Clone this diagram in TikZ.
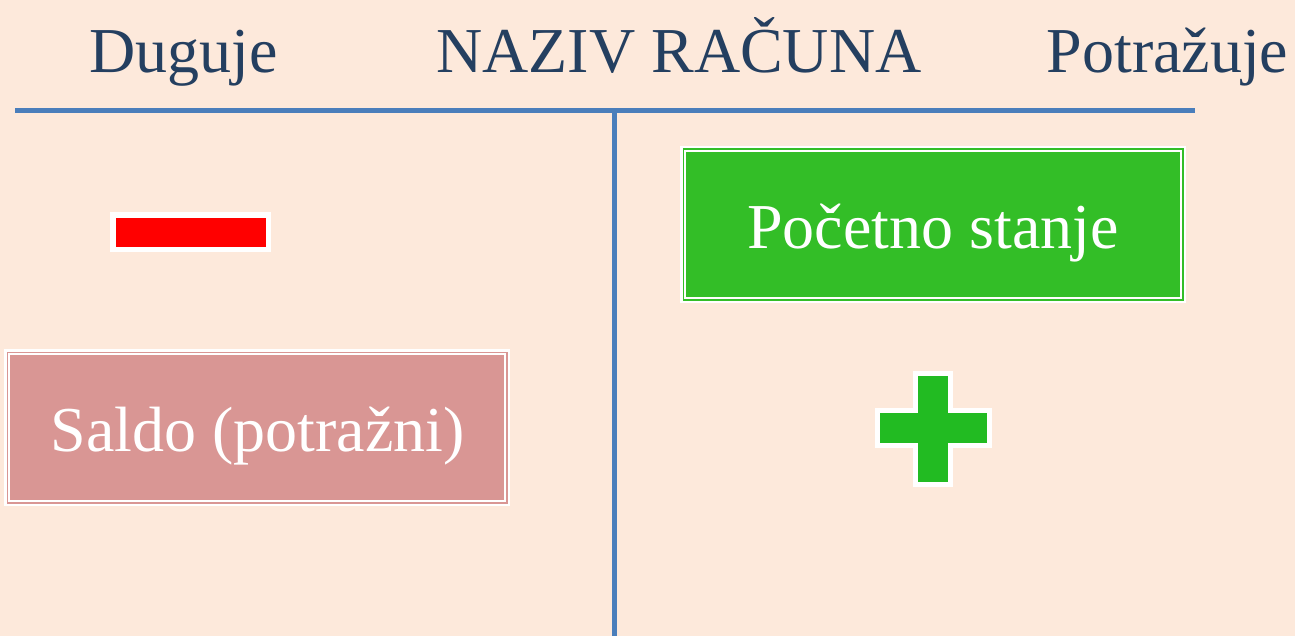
\documentclass[tikz,border=0pt]{standalone}
\usepackage{fontspec}
\setmainfont{Liberation Serif}
\definecolor{bgc}{HTML}{FDE9DB}
\definecolor{titc}{HTML}{243F60}
\definecolor{linec}{HTML}{4A7EBB}
\definecolor{boxgreen}{HTML}{33BE27}
\definecolor{plusgreen}{HTML}{22BB22}
\definecolor{boxpink}{HTML}{D99694}
\begin{document}
\begin{tikzpicture}[x=1pt,y=-1pt,
  title/.style={font=\fontsize{64}{70}\selectfont, text=titc, anchor=base, inner sep=0pt},
  boxtext/.style={font=\fontsize{64}{70}\selectfont, text=white, anchor=base, inner sep=0pt},
  tline/.style={draw=linec, line width=5pt},
  framebox/.style={draw=white, line width=2.5pt},
  innerframe/.style={draw=white, line width=2pt}]
\useasboundingbox (0,0) rectangle (1295,636);
\fill[bgc] (0,0) rectangle (1295,636);
% titles
\node[title] (deb) at (183.5,73) {Duguje};
\node[title] (name) at (679,73) {NAZIV RAČUNA};
\node[title] (cred) at (1167.5,73) {Potražuje};
% T lines
\coordinate (hl) at (15,110.5);
\coordinate (hr) at (1195,110.5);
\coordinate (vt) at (614.5,110.5);
\coordinate (vb) at (614.5,636);
\draw[tline] (hl) -- (hr);
\draw[tline] (vt) -- (vb);
% green box
\fill[boxgreen] (681.25,147.25) rectangle (1184.75,301.75);
\draw[framebox] (681.25,147.25) rectangle (1184.75,301.75);
\draw[innerframe] (685,151) rectangle (1181,298);
\node[boxtext] (poc) at (933,249) {Početno stanje};
% pink box
\fill[boxpink] (5.25,350.25) rectangle (508.75,504.75);
\draw[framebox] (5.25,350.25) rectangle (508.75,504.75);
\draw[innerframe] (9.2,354.2) rectangle (504.8,500.8);
\node[boxtext] (sal) at (257.5,451) {Saldo (potražni)};
% minus
\draw[draw=white, line width=5.5pt, fill=red] (113,215) rectangle (268.5,249.5);
% plus
\draw[draw=white, line width=5pt, fill=plusgreen]
  (915.5,373.5) -- (950.5,373.5) -- (950.5,410.5) -- (989.5,410.5) -- (989.5,445.5)
  -- (950.5,445.5) -- (950.5,484.5) -- (915.5,484.5) -- (915.5,445.5) -- (877.5,445.5)
  -- (877.5,410.5) -- (915.5,410.5) -- cycle;
\end{tikzpicture}
\end{document}
